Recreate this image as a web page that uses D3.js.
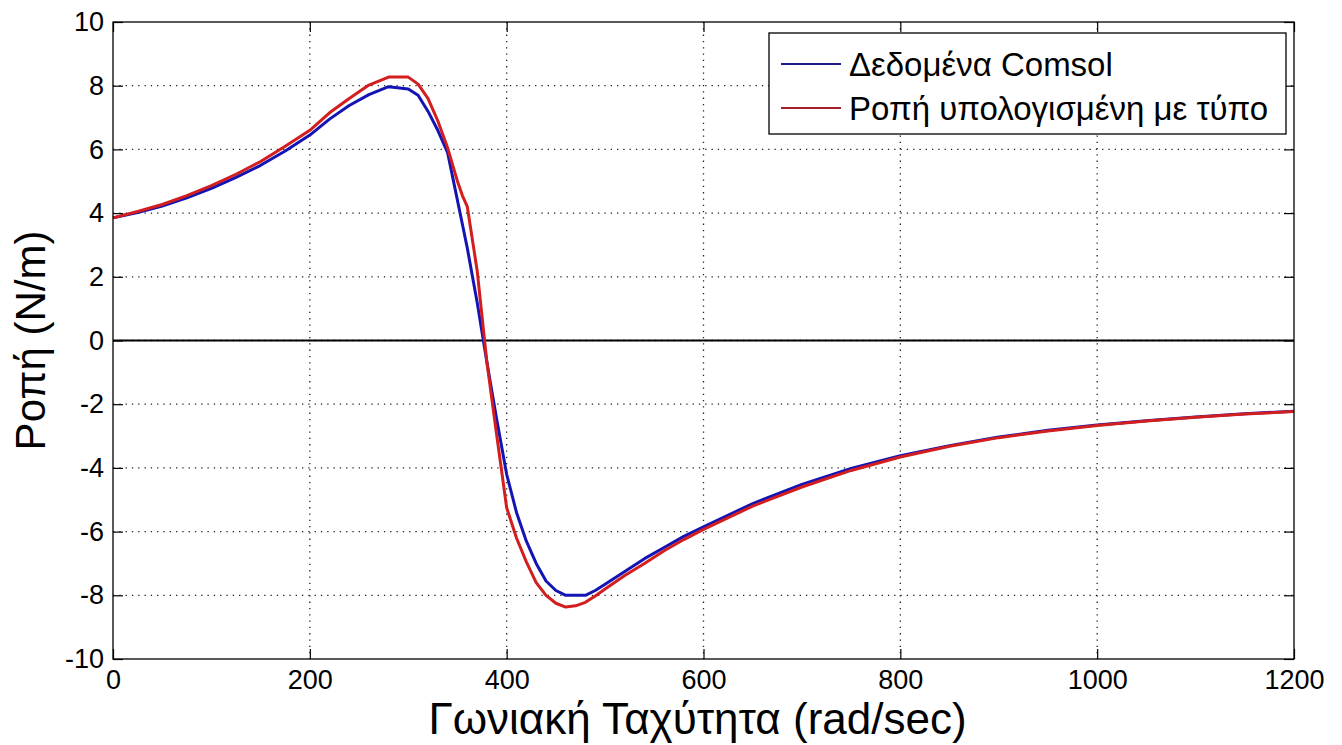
<!DOCTYPE html>
<html>
<head>
<meta charset="utf-8">
<script src="https://cdn.jsdelivr.net/npm/d3@7"></script>
<style>
  html, body { margin: 0; padding: 0; background: #fff; }
  svg text { font-family: "Liberation Sans", Arial, sans-serif; fill: #000; }
</style>
</head>
<body>
<svg id="chart" width="1342" height="745"></svg>
<script>
// Angular speed samples (rad/sec)
const speed = [0, 25, 50, 75, 100, 125, 150, 175, 200, 220, 240, 260, 280, 300, 310, 320, 330, 340, 350, 355, 360, 370, 380, 390, 400, 410, 420, 430, 440, 450, 460, 470, 480, 490, 500, 520, 540, 560, 580, 600, 650, 700, 750, 800, 850, 900, 950, 1000, 1050, 1100, 1150, 1200];

// Torque from the Comsol simulation
const torqueComsol = [3.85, 4.02, 4.22, 4.48, 4.78, 5.12, 5.5, 5.95, 6.45, 6.95, 7.38, 7.72, 7.97, 7.9, 7.7, 7.2, 6.6, 5.9, 4.4, 3.65, 2.9, 1.2, -0.7, -2.5, -4.2, -5.4, -6.3, -7.0, -7.55, -7.85, -8.0, -8.0, -8.0, -7.85, -7.65, -7.25, -6.85, -6.5, -6.15, -5.85, -5.12, -4.52, -4.02, -3.62, -3.3, -3.03, -2.82, -2.65, -2.52, -2.4, -2.3, -2.22];

// Torque computed from the formula
const torqueFormula = [3.85, 4.05, 4.27, 4.55, 4.86, 5.22, 5.62, 6.1, 6.6, 7.15, 7.6, 8.02, 8.27, 8.27, 8.05, 7.6, 6.9, 6.05, 5.0, 4.55, 4.2, 2.2, -0.7, -3.0, -5.25, -6.2, -6.95, -7.6, -8.0, -8.25, -8.37, -8.33, -8.22, -8.02, -7.8, -7.38, -7.0, -6.6, -6.25, -5.93, -5.2, -4.6, -4.08, -3.66, -3.32, -3.05, -2.84, -2.67, -2.53, -2.41, -2.31, -2.23];

const xTicks = [0, 200, 400, 600, 800, 1000, 1200];
const yTicks = [-10, -8, -6, -4, -2, 0, 2, 4, 6, 8, 10];

const seriesNames = ["Δεδομένα Comsol", "Ροπή υπολογισμένη με τύπο"];
const seriesColors = ["#1414b4", "#d21e1e"];
const legendColors = ["#1c1c86", "#a8202a"];

const xTitle = "Γωνιακή Ταχύτητα (rad/sec)";
const yTitle = "Ροπή (N/m)";

const W = 1342, H = 745;
const margin = { left: 113, top: 22, right: 48, bottom: 86 };
const iw = W - margin.left - margin.right;
const ih = H - margin.top - margin.bottom;

const svg = d3.select("#chart");
svg.append("rect").attr("width", W).attr("height", H).attr("fill", "#fff");

const g = svg.append("g").attr("transform", `translate(${margin.left},${margin.top})`);

const x = d3.scaleLinear().domain([0, 1200]).range([0, iw]);
const y = d3.scaleLinear().domain([-10, 10]).range([ih, 0]);

// dotted grid
const grid = g.append("g").attr("stroke", "#222").attr("stroke-width", 1.3)
  .attr("stroke-dasharray", "1.3,5");
grid.selectAll("line.gx").data(xTicks.slice(1, -1)).join("line")
  .attr("x1", d => x(d)).attr("x2", d => x(d)).attr("y1", 0).attr("y2", ih);
grid.selectAll("line.gy").data(yTicks.slice(1, -1)).join("line")
  .attr("y1", d => y(d)).attr("y2", d => y(d)).attr("x1", 0).attr("x2", iw);

// zero reference line
g.append("line").attr("x1", x(0)).attr("x2", x(1200)).attr("y1", y(0)).attr("y2", y(0))
  .attr("stroke", "#000").attr("stroke-width", 2);

// curves
const line = d3.line().x((d, i) => x(speed[i])).y(d => y(d));
[torqueComsol, torqueFormula].forEach((s, k) => {
  g.append("path").datum(s).attr("d", line).attr("fill", "none")
    .attr("stroke", seriesColors[k]).attr("stroke-width", 3)
    .attr("stroke-linejoin", "round");
});

// axes with inward ticks on all four sides
const fontSize = 27;
const plain = d => String(d);
function styleAxis(sel) {
  sel.select(".domain").remove();
  sel.selectAll(".tick line").attr("stroke", "#000").attr("stroke-width", 1.2);
  sel.selectAll(".tick text").attr("font-size", fontSize).attr("font-family", "Liberation Sans, Arial, sans-serif");
}
g.append("g").attr("transform", `translate(0,${ih})`)
  .call(d3.axisBottom(x).tickValues(xTicks).tickSize(-10).tickPadding(11).tickFormat(plain))
  .call(styleAxis);
g.append("g")
  .call(d3.axisLeft(y).tickValues(yTicks).tickSize(-10).tickPadding(9).tickFormat(plain))
  .call(styleAxis);
g.append("g")
  .call(d3.axisTop(x).tickValues(xTicks).tickSize(-10).tickFormat(""))
  .call(styleAxis);
g.append("g").attr("transform", `translate(${iw},0)`)
  .call(d3.axisRight(y).tickValues(yTicks).tickSize(-10).tickFormat(""))
  .call(styleAxis);

// frame
g.append("rect").attr("width", iw).attr("height", ih).attr("fill", "none")
  .attr("stroke", "#000").attr("stroke-width", 1.3);

// axis titles
svg.append("text").attr("x", margin.left + iw / 2 - 6).attr("y", 734)
  .attr("text-anchor", "middle").attr("font-size", 44).text(xTitle);
svg.append("text").attr("transform", `translate(30,${margin.top + ih / 2}) rotate(-90)`)
  .attr("text-anchor", "middle").attr("dy", "0.35em").attr("font-size", 42).text(yTitle);

// legend
const lg = svg.append("g").attr("transform", "translate(769,33)");
lg.append("rect").attr("width", 517).attr("height", 101).attr("fill", "#fff")
  .attr("stroke", "#000").attr("stroke-width", 1.3);
seriesNames.forEach((name, k) => {
  const cy = 31 + k * 44;
  lg.append("line").attr("x1", 12).attr("x2", 72).attr("y1", cy).attr("y2", cy)
    .attr("stroke", legendColors[k]).attr("stroke-width", 2);
  lg.append("text").attr("x", 80).attr("y", cy).attr("dy", "0.35em")
    .attr("font-size", 33).text(name);
});
</script>
</body>
</html>
